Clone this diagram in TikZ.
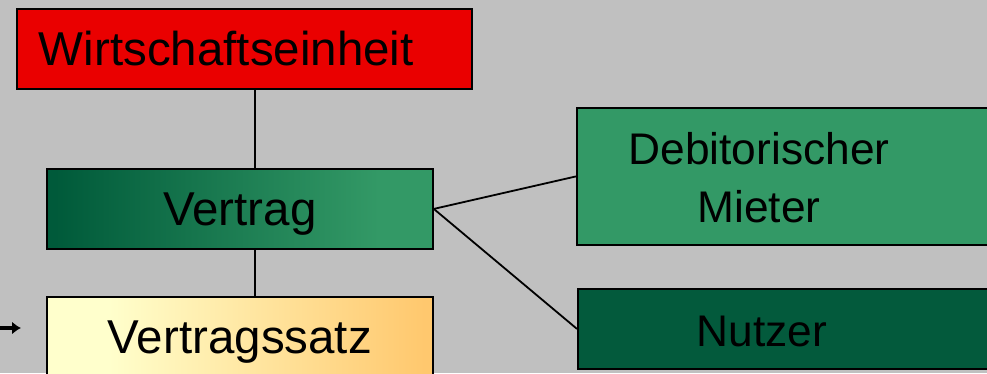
\documentclass[tikz,border=0pt]{standalone}
\usepackage{fontspec}
\setmainfont{Liberation Sans}
\usetikzlibrary{arrows.meta}
\definecolor{bg}{RGB}{192,192,192}
\definecolor{wred}{RGB}{234,0,0}
\definecolor{mgreen}{RGB}{51,153,102}
\definecolor{dgreen}{RGB}{3,90,60}
\pgfdeclarehorizontalshading{vgreen}{100bp}{rgb(0bp)=(0,0.353,0.227); rgb(26bp)=(0,0.353,0.227); rgb(68bp)=(0.2,0.6,0.4); rgb(100bp)=(0.2,0.6,0.4)}
\pgfdeclarehorizontalshading{vyellow}{100bp}{rgb(0bp)=(1,1,0.8); rgb(33bp)=(1,1,0.8); rgb(74bp)=(1,0.784,0.43); rgb(100bp)=(1,0.784,0.43)}
\tikzset{
  box/.style={draw=black, line width=1.8pt, rectangle, inner sep=0pt, minimum height=80pt},
  lbl/.style={font=\fontsize{47.5}{58}\selectfont, inner sep=0pt, align=center},
  rlbl/.style={font=\fontsize{44.3}{58}\selectfont, inner sep=0pt, align=center},
  one/.style={text height=34pt, text depth=0pt},
  conn/.style={line width=1.8pt, black}
}
\begin{document}
\begin{tikzpicture}[x=1pt,y=-1pt]
\fill[bg] (0,0) rectangle (987,373);
\useasboundingbox (0,0) rectangle (987,373);
\clip (0,0) rectangle (987,373);
% boxes
\node[box, fill=wred, anchor=north west, minimum width=455pt, text width=411pt, inner xsep=22pt, align=left, font=\fontsize{47.5}{58}\selectfont, text height=34pt, text depth=0pt] (w) at (16,8) {Wirtschaftseinheit};
\node[box, shading=vgreen, anchor=north west, minimum width=386pt, lbl, one] (v) at (46,168) {Vertrag};
\node[box, shading=vyellow, anchor=north west, minimum width=386pt, lbl, one] (vs) at (46,296) {Vertragssatz};
\node[box, fill=mgreen, anchor=north west, minimum width=430pt, minimum height=137pt] (deb) at (576,107) {};
\node[rlbl] (debt) at (759,178) {Debitorischer\\Mieter};
\node[box, fill=dgreen, anchor=north west, minimum width=430pt] (nut) at (577,288) {};
\node[rlbl, text height=32pt, text depth=0pt] (nutt) at (762,330) {Nutzer};
% connectors
\coordinate (xl) at (255,0);
\draw[conn] (w.south -| xl) -- (v.north -| xl);
\draw[conn] (v.south -| xl) -- (vs.north -| xl);
\draw[conn] (v.east) -- (deb.west);
\draw[conn] (v.east) -- (nut.west);
\coordinate (a0) at (-2,328);
\coordinate (a1) at (21,328);
\draw[line width=3.5pt, -{Latex[length=9pt,width=13pt]}] (a0) -- (a1);
\end{tikzpicture}
\end{document}
